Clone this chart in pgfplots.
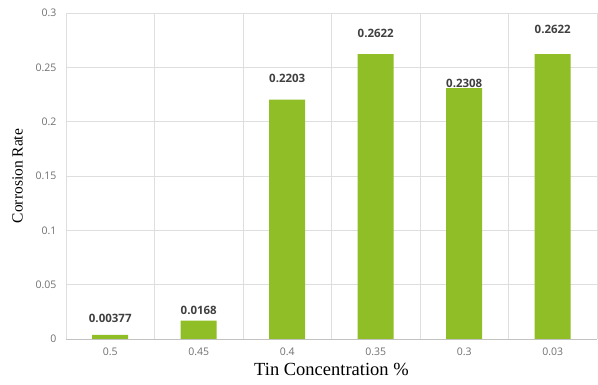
\documentclass[border=0pt]{standalone}
\usepackage{pgfplots}
\pgfplotsset{compat=1.18}
\usepackage{pgfplotstable}
\usepackage{fontspec}
\setmainfont{Liberation Serif}
\newfontfamily\tickfont{Open Sans}
\definecolor{bargreen}{RGB}{143,190,39}
\definecolor{tickgray}{RGB}{110,110,110}
\definecolor{labgray}{RGB}{64,64,64}
\definecolor{gridgray}{RGB}{222,222,222}
\pgfplotstableread{
x y off
0 0.00377 16
1 0.0168 10
2 0.2203 21
3 0.2622 21
4 0.2308 5
5 0.2622 25
}\datatable
\begin{document}
\begin{tikzpicture}
\path[use as bounding box] (-66pt,-46pt) rectangle (532pt,339pt);
\begin{axis}[
  scale only axis,
  width=531pt, height=326pt,
  at={(0pt,0pt)}, anchor=south west,
  xmin=-0.5, xmax=5.5,
  ymin=0, ymax=0.3,
  xtick={0,1,2,3,4,5},
  xticklabels={0.5,0.45,0.4,0.35,0.3,0.03},
  minor xtick={-0.5,0.5,1.5,2.5,3.5,4.5,5.5},
  xminorgrids=true,
  ytick={0,0.05,0.1,0.15,0.2,0.25,0.3},
  yticklabels={0,0.05,0.1,0.15,0.2,0.25,0.3},
  ymajorgrids=true,
  grid style={gridgray, line width=0.8pt},
  minor grid style={gridgray, line width=0.8pt},
  axis line style={draw=none},
  tick style={draw=none},
  major tick length=0pt, minor tick length=0pt,
  tick label style={font=\tickfont\fontsize{10.5}{12}\selectfont, text=tickgray},
  xticklabel style={yshift=-5pt},
  yticklabel style={xshift=-6pt},
  xlabel={\fontsize{18.5}{20}\selectfont Tin Concentration \%},
  ylabel={\fontsize{15.5}{17}\selectfont Corrosion Rate},
  xlabel style={yshift=-1pt},
  ylabel style={yshift=6pt},
  clip=false,
]
\draw[gridgray!70!gray, line width=0.8pt] (axis cs:-0.5,0) -- (axis cs:5.5,0);
\addplot[ybar, bar width=36pt, fill=bargreen, draw=none,
  visualization depends on={\thisrow{off} \as \off},
  nodes near coords,
  point meta=explicit symbolic,
  nodes near coords style={anchor=center, yshift=\off pt, font=\tickfont\bfseries\fontsize{11.5}{13}\selectfont, text=labgray},
] table[x=x, y=y, meta=y] {\datatable};
\end{axis}
\end{tikzpicture}
\end{document}
